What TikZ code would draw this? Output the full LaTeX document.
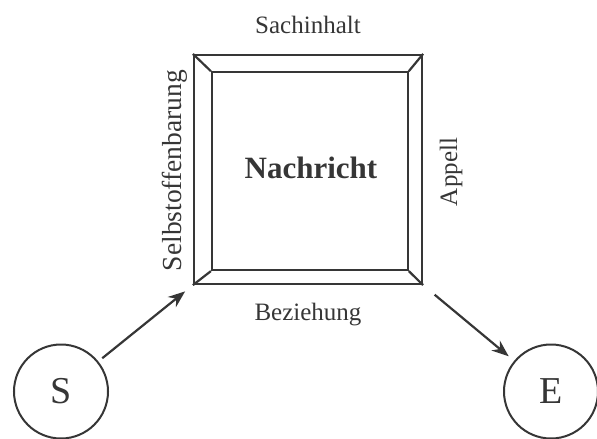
\documentclass[tikz,border=0pt]{standalone}
\usepackage{fontspec}
\setmainfont{Liberation Serif}
\usetikzlibrary{arrows.meta}
\definecolor{ink}{HTML}{363636}
\begin{document}
\begin{tikzpicture}[x=1pt,y=-1pt,
  frame/.style={draw=ink, line width=2.2pt, minimum width=#1, inner sep=0pt},
  person/.style={circle, draw=ink, line width=2pt, minimum size=94pt, inner sep=0pt, text=ink, font=\fontsize{38}{40}\selectfont},
  lbl/.style={text=ink, font=\fontsize{25}{28}\selectfont, inner sep=0pt},
  arr/.style={draw=ink, line width=2.2pt, -{Stealth[length=17pt,width=13pt]}}]
\useasboundingbox (0,0) rectangle (597,439);
\node[frame=228pt, minimum height=229pt] (outer) at (308,169.5) {};
\node[frame=195.7pt, minimum height=197.7pt] (inner) at (309.85,171.15) {};
\draw[draw=ink, line width=2.2pt] (outer.north west) -- (inner.north west)
  (outer.north east) -- (inner.north east)
  (outer.south west) -- (inner.south west)
  (outer.south east) -- (inner.south east);
\node[text=ink, font=\fontsize{31}{34}\selectfont\bfseries, inner sep=0pt] (msg) at (311,168) {Nachricht};
\node[lbl, anchor=base] (sach) at (308,33.3) {Sachinhalt};
\node[lbl, anchor=base] (bez) at (308,320) {Beziehung};
\node[lbl, rotate=90, anchor=base, font=\fontsize{27.5}{30}\selectfont] (selbst) at (181,170.5) {Selbstoffenbarung};
\node[lbl, rotate=90, anchor=base] (app) at (457,172) {Appell};
\node[person] (S) at (61,391.5) {S};
\node[person] (E) at (551,391.5) {E};
\draw[arr, shorten <=5pt, shorten >=10pt] (S) -- (outer.south west);
\draw[arr, shorten <=15pt, shorten >=7pt] (outer.south east) -- (E);
\end{tikzpicture}
\end{document}
